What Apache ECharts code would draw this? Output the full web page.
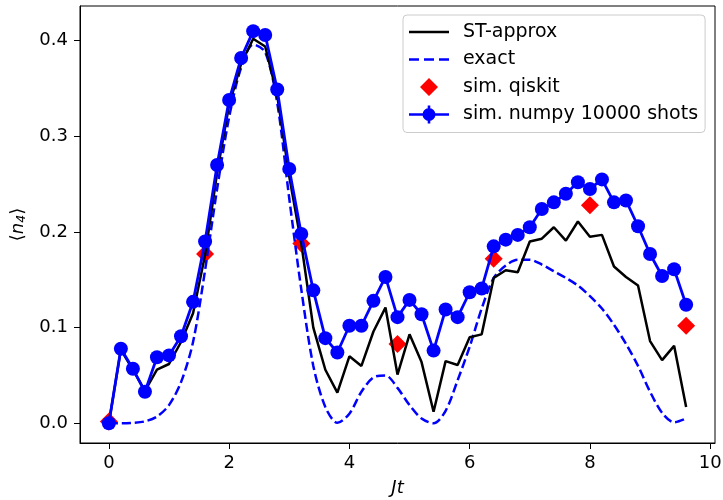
<!DOCTYPE html>
<html>
<head>
<meta charset="utf-8">
<script src="https://cdn.jsdelivr.net/npm/echarts@6/dist/echarts.min.js"></script>
<style>
  html, body { margin: 0; padding: 0; background: #fff; }
  #chart { width: 723px; height: 500px; }
</style>
</head>
<body>
<div id="chart"></div>
<script>
// time grid Jt
const times = [0, 0.2, 0.4, 0.6, 0.8, 1.0, 1.2, 1.4, 1.6, 1.8,
    2.0, 2.2, 2.4, 2.6, 2.8, 3.0, 3.2, 3.4, 3.6, 3.8,
    4.0, 4.2, 4.4, 4.6, 4.8, 5.0, 5.2, 5.4, 5.6, 5.8,
    6.0, 6.2, 6.4, 6.6, 6.8, 7.0, 7.2, 7.4, 7.6, 7.8,
    8.0, 8.2, 8.4, 8.6, 8.8, 9.0, 9.2, 9.4, 9.6];

const stApprox = [0.0, 0.077, 0.056, 0.034, 0.056, 0.062, 0.085, 0.115, 0.176, 0.262,
    0.333, 0.376, 0.402, 0.394, 0.343, 0.258, 0.188, 0.100, 0.056, 0.032,
    0.070, 0.060, 0.096, 0.121, 0.051, 0.093, 0.064, 0.012, 0.065, 0.061,
    0.090, 0.093, 0.152, 0.160, 0.158, 0.190, 0.193, 0.205, 0.191, 0.211,
    0.195, 0.197, 0.164, 0.153, 0.144, 0.086, 0.066, 0.081, 0.017];

const exact = [0.0, 0.0, 0.0005, 0.002, 0.007, 0.019, 0.043, 0.085, 0.160, 0.245,
    0.320, 0.372, 0.396, 0.388, 0.335, 0.235, 0.140, 0.060, 0.017, 0.0005,
    0.010, 0.033, 0.048, 0.050, 0.037, 0.019, 0.005, 0.0, 0.013, 0.045,
    0.080, 0.120, 0.152, 0.165, 0.171, 0.171, 0.166, 0.159, 0.152, 0.144,
    0.133, 0.120, 0.103, 0.083, 0.060, 0.033, 0.011, 0.001, 0.005];

const numpyShots = [0.0, 0.078, 0.057, 0.033, 0.069, 0.071, 0.091, 0.127, 0.190, 0.270,
    0.338, 0.382, 0.410, 0.406, 0.349, 0.266, 0.198, 0.139, 0.089, 0.074,
    0.102, 0.102, 0.128, 0.153, 0.111, 0.129, 0.114, 0.076, 0.119, 0.111,
    0.137, 0.141, 0.185, 0.192, 0.197, 0.205, 0.224, 0.231, 0.240, 0.252,
    0.245, 0.255, 0.231, 0.233, 0.206, 0.177, 0.154, 0.161, 0.124];

const qiskitTimes = [0, 1.6, 3.2, 4.8, 6.4, 8.0, 9.6];
const qiskitValues = [0.002, 0.177, 0.188, 0.083, 0.172, 0.228, 0.102];

const xTicks = [0, 2, 4, 6, 8, 10];
const yTicks = [0, 0.1, 0.2, 0.3, 0.4];

const pairs = (xs, ys) => xs.map((x, i) => [x, ys[i]]);

// legend icons drawn in a 40x18 box; tiny corner specks pin the bounding box
const box = 'M0,0 L0.1,0 L0.1,0.1 Z M40,18 L39.9,18 L39.9,17.9 Z ';
const icons = {
    line: 'path://' + box + 'M0,7.8 L40,7.8 L40,10.2 L0,10.2 Z',
    dashed: 'path://' + box + 'M0,7.8 L10,7.8 L10,10.2 L0,10.2 Z M15,7.8 L25,7.8 L25,10.2 L15,10.2 Z M30,7.8 L40,7.8 L40,10.2 L30,10.2 Z',
    diamond: 'path://' + box + 'M20,0 L29,9 L20,18 L11,9 Z',
    errorbar: 'path://' + box + 'M0,7.7 L14,7.7 L14,10.3 L0,10.3 Z M26,7.7 L40,7.7 L40,10.3 L26,10.3 Z ' +
        'M18.7,0 L21.3,0 L21.3,3 L18.7,3 Z M18.7,15 L21.3,15 L21.3,18 L18.7,18 Z ' +
        'M13.5,9 A6.5,6.5 0 1 1 26.5,9 A6.5,6.5 0 1 1 13.5,9 Z'
};

const chart = echarts.init(document.getElementById('chart'));
const font = 'DejaVu Sans';

const option = {
    animation: false,
    backgroundColor: '#fff',
    textStyle: { fontFamily: font },
    grid: {
        left: 80, right: 8, top: 6, bottom: 57,
        show: true, borderColor: '#000', borderWidth: 1,
        outerBoundsMode: 'none'
    },
    legend: {
        orient: 'vertical',
        left: 403,
        top: 15,
        padding: [7, 7, 8, 6],
        itemWidth: 40,
        itemHeight: 18,
        itemGap: 7.5,
        backgroundColor: 'rgba(255,255,255,0.8)',
        borderColor: '#cccccc',
        borderWidth: 1,
        borderRadius: 4,
        textStyle: { fontFamily: font, fontSize: 19, color: '#000', lineHeight: 20, padding: [0, 0, 0, 9] },
        data: [
            { name: 'ST-approx', icon: icons.line },
            { name: 'exact', icon: icons.dashed },
            { name: 'sim. qiskit', icon: icons.diamond },
            { name: 'sim. numpy 10000 shots', icon: icons.errorbar }
        ]
    },
    xAxis: {
        type: 'value',
        min: -0.48,
        max: 10.08,
        name: '{i|Jt}',
        nameLocation: 'middle',
        nameGap: 36,
        nameTextStyle: {
            rich: { i: { fontFamily: font, fontSize: 18, fontStyle: 'italic', color: '#000' } }
        },
        splitLine: { show: false },
        axisLine: { onZero: false, lineStyle: { color: '#000', width: 1 } },
        axisTick: { inside: false, length: 6, lineStyle: { color: '#000' }, customValues: xTicks },
        axisLabel: {
            customValues: xTicks,
            color: '#000', fontSize: 18, margin: 11,
            formatter: v => String(Math.round(v))
        }
    },
    yAxis: {
        type: 'value',
        min: -0.0206,
        max: 0.4363,
        name: '{a|⟨}{i|n}{s|4}{a|⟩}',
        nameLocation: 'middle',
        nameGap: 52,
        nameRotate: 90,
        nameTextStyle: {
            rich: {
                a: { fontFamily: font, fontSize: 18, color: '#000' },
                i: { fontFamily: font, fontSize: 18, fontStyle: 'italic', color: '#000' },
                s: { fontFamily: font, fontSize: 12.5, fontStyle: 'italic', color: '#000', padding: [7, 0, 0, 0] }
            }
        },
        splitLine: { show: false },
        axisLine: { onZero: false, lineStyle: { color: '#000', width: 1 } },
        axisTick: { inside: false, length: 6, lineStyle: { color: '#000' }, customValues: yTicks },
        axisLabel: {
            customValues: yTicks,
            color: '#000', fontSize: 18, margin: 12,
            formatter: v => v.toFixed(1)
        }
    },
    series: [
        {
            name: 'sim. qiskit',
            type: 'scatter',
            symbol: 'diamond',
            symbolSize: 18,
            itemStyle: { color: '#ff0000', opacity: 1 },
            z: 1,
            data: pairs(qiskitTimes, qiskitValues)
        },
        {
            name: 'exact',
            type: 'line',
            showSymbol: false,
            symbol: 'none',
            smooth: 0.3,
            lineStyle: { color: '#0000ff', width: 2.5, type: [9, 4] },
            itemStyle: { color: '#0000ff' },
            z: 2,
            data: pairs(times, exact)
        },
        {
            name: 'ST-approx',
            type: 'line',
            symbol: 'none',
            lineStyle: { color: '#000', width: 2.5 },
            itemStyle: { color: '#000' },
            z: 3,
            data: pairs(times, stApprox)
        },
        {
            name: 'sim. numpy 10000 shots',
            type: 'line',
            symbol: 'circle',
            symbolSize: 14,
            lineStyle: { color: '#0000ff', width: 2.8 },
            itemStyle: { color: '#0000ff' },
            z: 4,
            data: pairs(times, numpyShots)
        }
    ]
};

chart.setOption(option);
</script>
</body>
</html>
